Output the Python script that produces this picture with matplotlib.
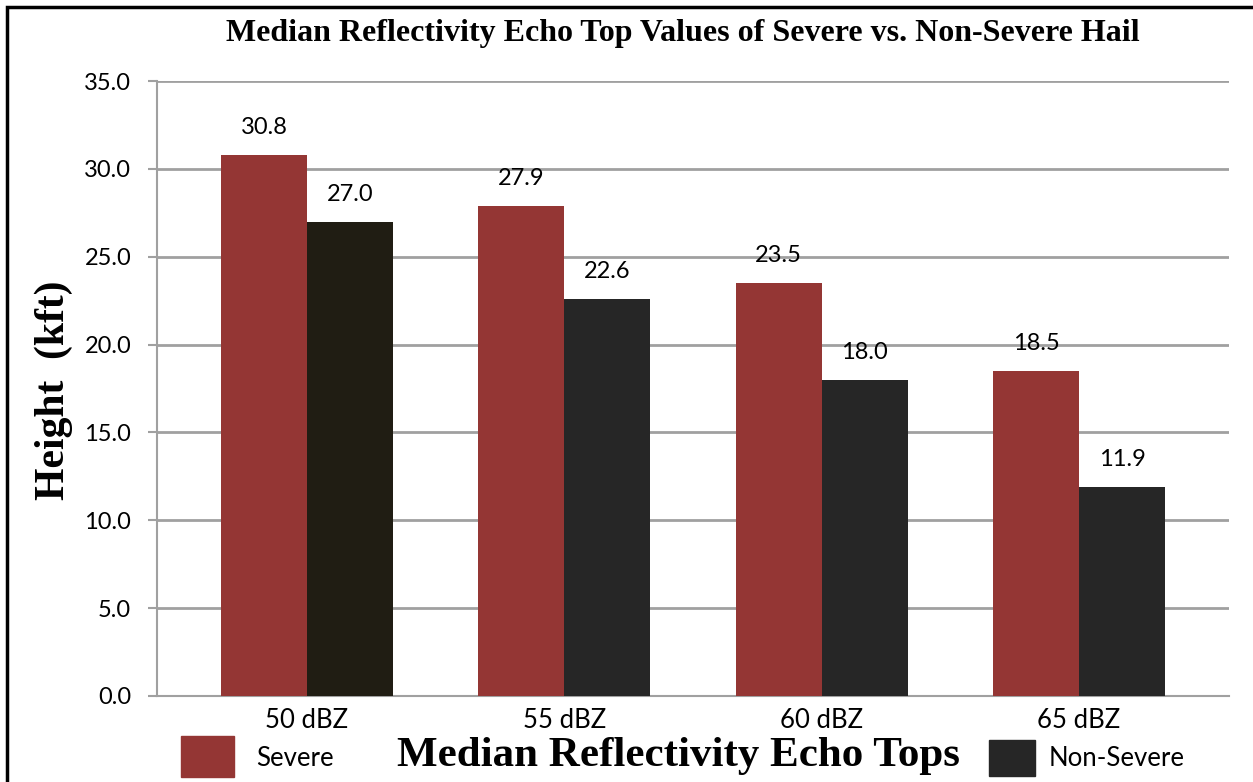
import matplotlib.pyplot as plt
import numpy as np
from matplotlib.patches import Rectangle

# Median echo top heights (kft) per reflectivity threshold
categories = ['50 dBZ', '55 dBZ', '60 dBZ', '65 dBZ']
severe = [30.8, 27.9, 23.5, 18.5]
non_severe = [27.0, 22.6, 18.0, 11.9]
y_ticks = [0, 5, 10, 15, 20, 25, 30, 35]

W, H = 1253, 782
fig = plt.figure(figsize=(W / 100, H / 100), dpi=100)

def fx(px):
    return px / W

def fy(py):
    return 1 - py / H

ax = fig.add_axes([fx(157), fy(696), fx(1229) - fx(157), fy(81) - fy(696)])

sans = ['Lato', 'DejaVu Sans']
serif = ['Liberation Serif', 'DejaVu Serif']
red = '#943634'
dark = ['#201d13', '#262626', '#262626', '#262626']
fs = 17
fs_big = 18.5

x = np.arange(len(categories))
w = 0.334
b1 = ax.bar(x - w / 2, severe, w, color=red, zorder=3)
b2 = ax.bar(x + w / 2, non_severe, w, color=dark, zorder=3)

for bars, vals in ((b1, severe), (b2, non_severe)):
    for bar, v in zip(bars, vals):
        ax.annotate(f'{v:.1f}', (bar.get_x() + bar.get_width() / 2, v),
                    xytext=(0, 12), textcoords='offset points',
                    ha='center', va='bottom', fontsize=fs, family=sans)

ax.set_xlim(-0.583, 3.583)
ax.set_ylim(0, 35)
ax.set_yticks(y_ticks)
ax.set_yticklabels([f'{t:.1f}' for t in y_ticks], fontsize=fs, family=sans)
ax.set_xticks(x)
ax.set_xticklabels(categories, fontsize=fs_big, family=sans)
ax.tick_params(axis='x', length=0, pad=9)
ax.tick_params(axis='y', length=6.5, width=1.5, color='#a0a0a0', pad=12)
ax.yaxis.grid(True, color='#a0a0a0', linewidth=2, zorder=0)

for side in ('top', 'right'):
    ax.spines[side].set_visible(False)
for side in ('left', 'bottom'):
    ax.spines[side].set_color('#a0a0a0')
    ax.spines[side].set_linewidth(1.5)

fig.text(fx(683), fy(33), 'Median Reflectivity Echo Top Values of Severe vs. Non-Severe Hail',
         ha='center', va='center', fontsize=23, fontweight='bold', family=serif)
fig.text(fx(54), fy(390), 'Height  (kft)', rotation=90, ha='center', va='center',
         fontsize=30, fontweight='bold', family=serif)
fig.text(fx(678), fy(756), 'Median Reflectivity Echo Tops', ha='center', va='center',
         fontsize=31, fontweight='bold', family=serif)

# legend entries on either side of the axis title
fig.add_artist(Rectangle((fx(181), fy(777)), fx(53), fy(736) - fy(777),
                         transform=fig.transFigure, color=red))
fig.text(fx(256), fy(758), 'Severe', ha='left', va='center', fontsize=fs_big, family=sans)
fig.add_artist(Rectangle((fx(989), fy(776)), fx(46), fy(740) - fy(776),
                         transform=fig.transFigure, color='#262626'))
fig.text(fx(1049), fy(758), 'Non-Severe', ha='left', va='center', fontsize=fs_big, family=sans)

# frame around the chart area
fig.add_artist(Rectangle((fx(7), fy(800)), fx(1260), fy(7) - fy(800),
                         transform=fig.transFigure, fill=False, edgecolor='black',
                         linewidth=2.5))

fig.savefig('out.png', dpi=100)
